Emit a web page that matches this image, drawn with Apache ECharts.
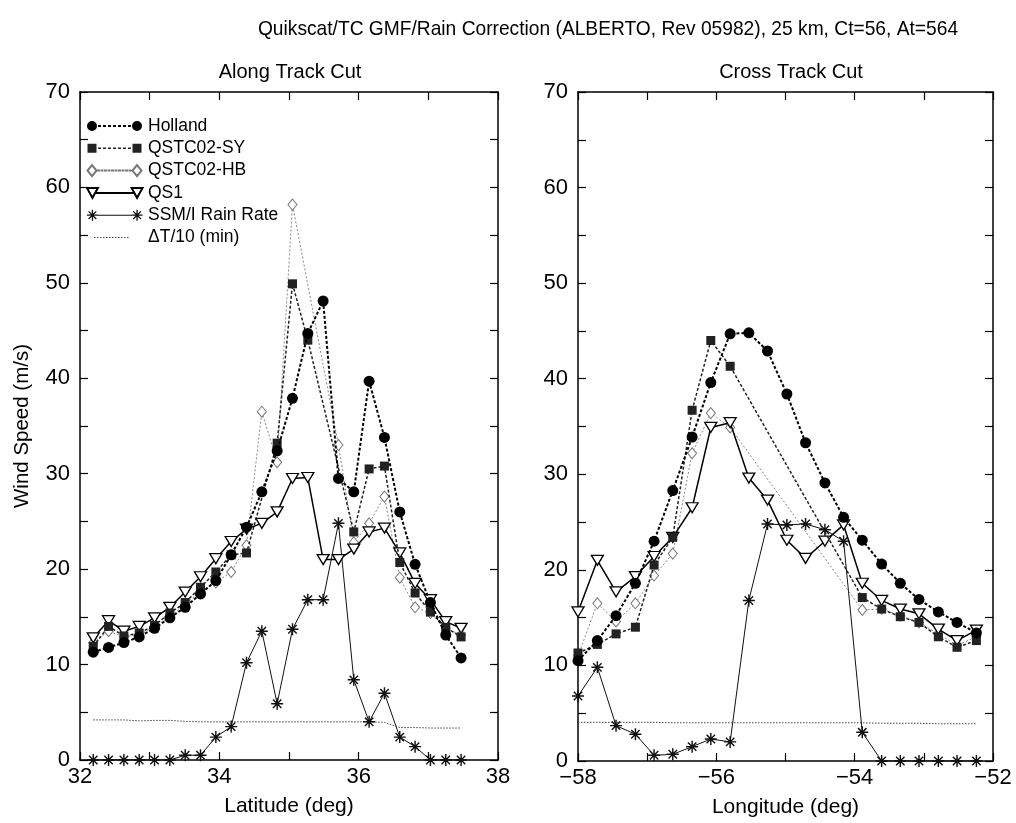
<!DOCTYPE html>
<html><head><meta charset="utf-8">
<script src="https://cdn.jsdelivr.net/npm/echarts@6/dist/echarts.min.js"></script>
<style>html,body{margin:0;padding:0;background:#fff}#c{width:1016px;height:823px}</style>
</head><body><div id="c"></div>
<script>
// ---------- Along track cut (left panel) ----------
const latAlong = [32.19, 32.41, 32.63, 32.85, 33.07, 33.29, 33.51, 33.73, 33.95, 34.17, 34.39, 34.61, 34.83, 35.05, 35.27, 35.49, 35.71, 35.93, 36.15, 36.37, 36.59, 36.81, 37.03, 37.25, 37.47];
const hollandAlong = [11.3, 11.8, 12.3, 12.9, 13.8, 14.9, 16.0, 17.4, 18.8, 21.5, 24.4, 28.1, 32.4, 37.9, 44.7, 48.1, 29.5, 28.1, 39.7, 33.8, 26.0, 20.5, 16.5, 13.1, 10.7];
const syAlong = [11.9, 14.0, 13.0, 13.3, 14.1, 15.4, 16.5, 18.1, 19.7, 21.5, 21.7, null, 33.2, 49.9, 44.0, null, null, 23.9, 30.5, 30.8, 20.7, 17.5, 15.5, 13.9, 12.9];
const hbAlong = [12.3, 13.5, 12.9, 13.1, 14.0, 15.0, 16.3, 17.7, 18.6, 19.7, 22.5, 36.5, 31.2, 58.2, null, null, 33.0, 22.8, 24.8, 27.6, 19.1, 16.0, 15.4, 13.8, 13.1];
const qs1Along = [12.8, 14.6, 13.5, 14.0, 14.9, 16.0, 17.6, 19.2, 21.1, 22.9, 24.2, 24.8, 26.0, 29.5, 29.6, 21.0, 21.0, 22.1, 23.9, 24.3, 21.7, 18.5, 16.8, 14.5, 13.8];
const rainAlong = [0, 0, 0, 0, 0, 0, 0.5, 0.5, 2.4, 3.5, 10.2, 13.5, 5.9, 13.7, 16.8, 16.8, 24.8, 8.4, 4.0, 7.0, 2.4, 1.4, 0, 0, 0];
const dtAlong = [4.2, 4.2, 4.2, 4.1, 4.15, 4.15, 4.05, 4.0, 4.0, 4.0, 4.0, 4.0, 4.0, 4.0, 4.0, 4.0, 4.0, 4.0, 4.0, 3.95, 3.4, 3.4, 3.35, 3.35, 3.35];

// ---------- Cross track cut (right panel) ----------
const lonCross = [-58.00, -57.72, -57.45, -57.17, -56.90, -56.63, -56.35, -56.08, -55.80, -55.53, -55.26, -54.98, -54.71, -54.43, -54.16, -53.89, -53.61, -53.34, -53.07, -52.79, -52.52, -52.24];
const hollandCross = [10.5, 12.6, 15.2, 18.6, 23.0, 28.3, 33.9, 39.6, 44.7, 44.8, 42.9, 38.4, 33.3, 29.1, 25.5, 23.1, 20.6, 18.6, 16.9, 15.6, 14.5, 13.4];
const syCross = [11.3, 12.2, 13.3, 14.0, 20.5, 23.4, 36.7, 44.0, 41.3, null, null, null, null, null, null, 17.1, 15.9, 15.1, 14.5, 13.0, 11.9, 12.6];
const hbCross = [11.0, 16.5, 14.6, 16.5, 19.4, 21.7, 32.2, 36.4, 34.9, null, null, null, null, null, null, 15.8, 15.9, 15.2, 14.5, 13.3, 12.1, 13.0];
const qs1Cross = [15.6, 21.0, 17.7, 19.3, 21.4, 23.4, 26.5, 34.9, 35.4, 29.6, 27.3, 23.1, 21.2, 23.0, 24.7, 18.6, 16.8, 15.9, 15.4, 13.8, 12.6, 13.7];
const rainCross = [6.8, 9.8, 3.7, 2.8, 0.6, 0.7, 1.5, 2.3, 2.0, 16.8, 24.8, 24.7, 24.8, 24.2, 23.0, 3.0, 0, 0, 0, 0, 0, 0];
const dtCross = [4.05, 4.05, 4.05, 4.05, 4.05, 4.0, 4.0, 4.0, 4.0, 4.0, 4.0, 4.0, 4.0, 4.0, 4.0, 4.0, 3.95, 3.95, 3.95, 3.9, 3.9, 3.9];

const seriesNames = ['Holland', 'QSTC02-SY', 'QSTC02-HB', 'QS1', 'SSM/I Rain Rate', '\u0394T/10 (min)'];
const titleText = 'Quikscat/TC GMF/Rain Correction (ALBERTO, Rev 05982), 25 km, Ct=56, At=564';
const panelTitles = ['Along Track Cut', 'Cross Track Cut'];
const axisNames = ['Latitude (deg)', 'Longitude (deg)', 'Wind Speed (m/s)'];

const F = "'Liberation Sans', Arial, Helvetica, sans-serif";

// ----- symbol / legend-icon helpers (styling only) -----
const STAR_UNIT = [
  [[-0.12,-1],[0.12,-1],[0.12,1],[-0.12,1]],
  [[-1,-0.12],[1,-0.12],[1,0.12],[-1,0.12]],
  [[-0.615,-0.785],[0.785,0.615],[0.615,0.785],[-0.785,-0.615]],
  [[-0.785,0.615],[0.615,-0.785],[0.785,-0.615],[-0.615,0.785]]
];
function starPath(cx, cy, r) {
  return STAR_UNIT.map(p => 'M' + p.map(q => (cx + r * q[0]).toFixed(3) + ',' + (cy + r * q[1]).toFixed(3)).join('L') + 'Z').join('');
}
const STAR = 'path://' + starPath(0, 0, 1);
const IW = 56, IH = 12, C = 6;
const frame = `M0,0L0.001,0M${IW},${IH}L${IW - 0.001},${IH}`;
function rect(x, y, w, h) { return `M${x},${y}L${x + w},${y}L${x + w},${y + h}L${x},${y + h}Z`; }
function dashes(x0, x1, dash, gap, th) { let s = ''; for (let x = x0; x + dash <= x1 + 0.01; x += dash + gap) s += rect(x, C - th / 2, dash, th); return s; }
function circ(cx, r) { return `M${cx - r},${C}A${r},${r} 0 1,1 ${cx + r},${C}A${r},${r} 0 1,1 ${cx - r},${C}Z`; }
function sq(cx, a) { return rect(cx - a / 2, C - a / 2, a, a); }
function dia(cx, w, h) { return `M${cx},${C - h / 2}L${cx + w / 2},${C}L${cx},${C + h / 2}L${cx - w / 2},${C}Z`; }
function tri(cx, w, h) { return `M${cx - w / 2},${C - h / 2}L${cx + w / 2},${C - h / 2}L${cx},${C + h / 2}Z`; }

const legendIcons = {
  'Holland': 'path://' + frame + circ(5, 5) + circ(50, 5) + dashes(11, 44, 3, 2, 2),
  'QSTC02-SY': 'path://' + frame + sq(5, 9) + sq(50, 9) + dashes(11, 45, 3, 2, 1.5),
  'QSTC02-HB': 'path://' + frame + dia(5, 9, 11) + dia(50, 9, 11) + dashes(11, 45, 1, 2.5, 0.01),
  'QS1': 'path://' + frame + tri(5, 11, 10) + tri(50, 11, 10) + rect(9.5, C, 36, 0.01),
  'SSM/I Rain Rate': 'path://' + frame + starPath(5, C, 5.5) + starPath(50, C, 5.5) + rect(10, C - 0.5, 35, 1),
  '\u0394T/10 (min)': 'path://' + frame + dashes(7, 42, 1.5, 1.5, 1)
};

const styles = {
  'Holland': {symbol: 'circle', symbolSize: 11, itemStyle: {color: '#000'}, lineStyle: {color: '#000', width: 2, type: [3, 2]}},
  'QSTC02-SY': {symbol: 'rect', symbolSize: 9, itemStyle: {color: '#222'}, lineStyle: {color: '#222', width: 1.5, type: [3, 2]}},
  'QSTC02-HB': {symbol: 'diamond', symbolSize: [9, 11], itemStyle: {color: '#fff', borderColor: '#777', borderWidth: 1}, lineStyle: {color: '#888', width: 1, type: [2, 2]}},
  'QS1': {symbol: 'triangle', symbolRotate: 180, symbolSize: [12, 10], itemStyle: {color: '#fff', borderColor: '#000', borderWidth: 1.3}, lineStyle: {color: '#000', width: 1.5, type: 'solid'}},
  'SSM/I Rain Rate': {symbol: STAR, symbolSize: 12, itemStyle: {color: '#111'}, lineStyle: {color: '#111', width: 1, type: 'solid'}},
  '\u0394T/10 (min)': {symbol: 'none', itemStyle: {color: '#444'}, lineStyle: {color: '#444', width: 1, type: [1.5, 1.5]}}
};

function mk(name, xs, ys, gi, z) {
  const s = styles[name];
  return Object.assign({
    name, type: 'line', xAxisIndex: gi * 2, yAxisIndex: gi * 2, z,
    connectNulls: true, showSymbol: s.symbol !== 'none', animation: false,
    data: xs.map((x, i) => [x, ys[i]])
  }, JSON.parse(JSON.stringify(s)));
}

function xAx(gi, min, max, pos, showLabel, name) {
  return {
    type: 'value', gridIndex: gi, min, max, interval: 1, position: pos,
    axisLine: {show: true, onZero: false, lineStyle: {color: '#000', width: 1.5}},
    axisTick: {show: true, inside: true, length: 8, lineStyle: {color: '#000', width: 1.2}},
    axisLabel: {show: showLabel, margin: 6, fontSize: 22, color: '#000', fontFamily: F,
      formatter: v => (Math.round(v) % 2 === 0 ? String(v).replace('-', '\u2212') : '')},
    splitLine: {show: false},
    name: showLabel ? name : '', nameLocation: 'middle', nameGap: 36,
    nameTextStyle: {fontSize: 21, color: '#000', fontFamily: F}
  };
}
function yAx(gi, pos, showLabel, name) {
  return {
    type: 'value', gridIndex: gi, min: 0, max: 70, interval: 5, position: pos,
    axisLine: {show: true, onZero: false, lineStyle: {color: '#000', width: 1.5}},
    axisTick: {show: true, inside: true, length: 8, lineStyle: {color: '#000', width: 1.2}},
    axisLabel: {show: showLabel, margin: 10, fontSize: 22, color: '#000', fontFamily: F,
      formatter: v => (v % 10 === 0 ? String(v) : '')},
    splitLine: {show: false},
    name: name || '', nameLocation: 'middle', nameGap: 47, nameRotate: 90,
    nameTextStyle: {fontSize: 20.5, color: '#000', fontFamily: F}
  };
}

const chart = echarts.init(document.getElementById('c'), null, {renderer: 'canvas'});
chart.setOption({
  backgroundColor: '#fff',
  animation: false,
  title: [
    {text: panelTitles[0], left: 285, top: 57, textAlign: 'center', textStyle: {fontSize: 20, fontWeight: 'normal', color: '#000', fontFamily: F}},
    {text: panelTitles[1], left: 786, top: 57, textAlign: 'center', textStyle: {fontSize: 20, fontWeight: 'normal', color: '#000', fontFamily: F}}
  ],
  graphic: [{
    type: 'text', x: 608, y: 29, scaleX: 0.914,
    style: {text: titleText, font: "21px 'Liberation Sans', Arial, sans-serif", fill: '#000',
      textAlign: 'center', textVerticalAlign: 'middle', align: 'center', verticalAlign: 'middle'}
  }],
  legend: {
    data: seriesNames.map(n => ({name: n, icon: legendIcons[n]})),
    orient: 'vertical', left: 86, top: 117, padding: 0,
    itemWidth: IW, itemHeight: IH, itemGap: 4.3, selectedMode: false, symbolKeepAspect: true,
    textStyle: {fontSize: 17.5, lineHeight: 18, color: '#000', fontFamily: F}
  },
  grid: [
    {left: 80, right: 518, top: 92, bottom: 63},
    {left: 578, right: 23, top: 92, bottom: 62}
  ],
  xAxis: [
    xAx(0, 32, 38, 'bottom', true, axisNames[0]),
    xAx(0, 32, 38, 'top', false, ''),
    xAx(1, -58, -52, 'bottom', true, axisNames[1]),
    xAx(1, -58, -52, 'top', false, '')
  ],
  yAxis: [
    yAx(0, 'left', true, axisNames[2]),
    yAx(0, 'right', false, ''),
    yAx(1, 'left', true, ''),
    yAx(1, 'right', false, '')
  ],
  series: [
    mk(seriesNames[5], latAlong, dtAlong, 0, 2),
    mk(seriesNames[4], latAlong, rainAlong, 0, 3),
    mk(seriesNames[2], latAlong, hbAlong, 0, 4),
    mk(seriesNames[3], latAlong, qs1Along, 0, 5),
    mk(seriesNames[1], latAlong, syAlong, 0, 6),
    mk(seriesNames[0], latAlong, hollandAlong, 0, 7),
    mk(seriesNames[5], lonCross, dtCross, 1, 2),
    mk(seriesNames[4], lonCross, rainCross, 1, 3),
    mk(seriesNames[2], lonCross, hbCross, 1, 4),
    mk(seriesNames[3], lonCross, qs1Cross, 1, 5),
    mk(seriesNames[1], lonCross, syCross, 1, 6),
    mk(seriesNames[0], lonCross, hollandCross, 1, 7)
  ]
});
</script>
</body></html>
